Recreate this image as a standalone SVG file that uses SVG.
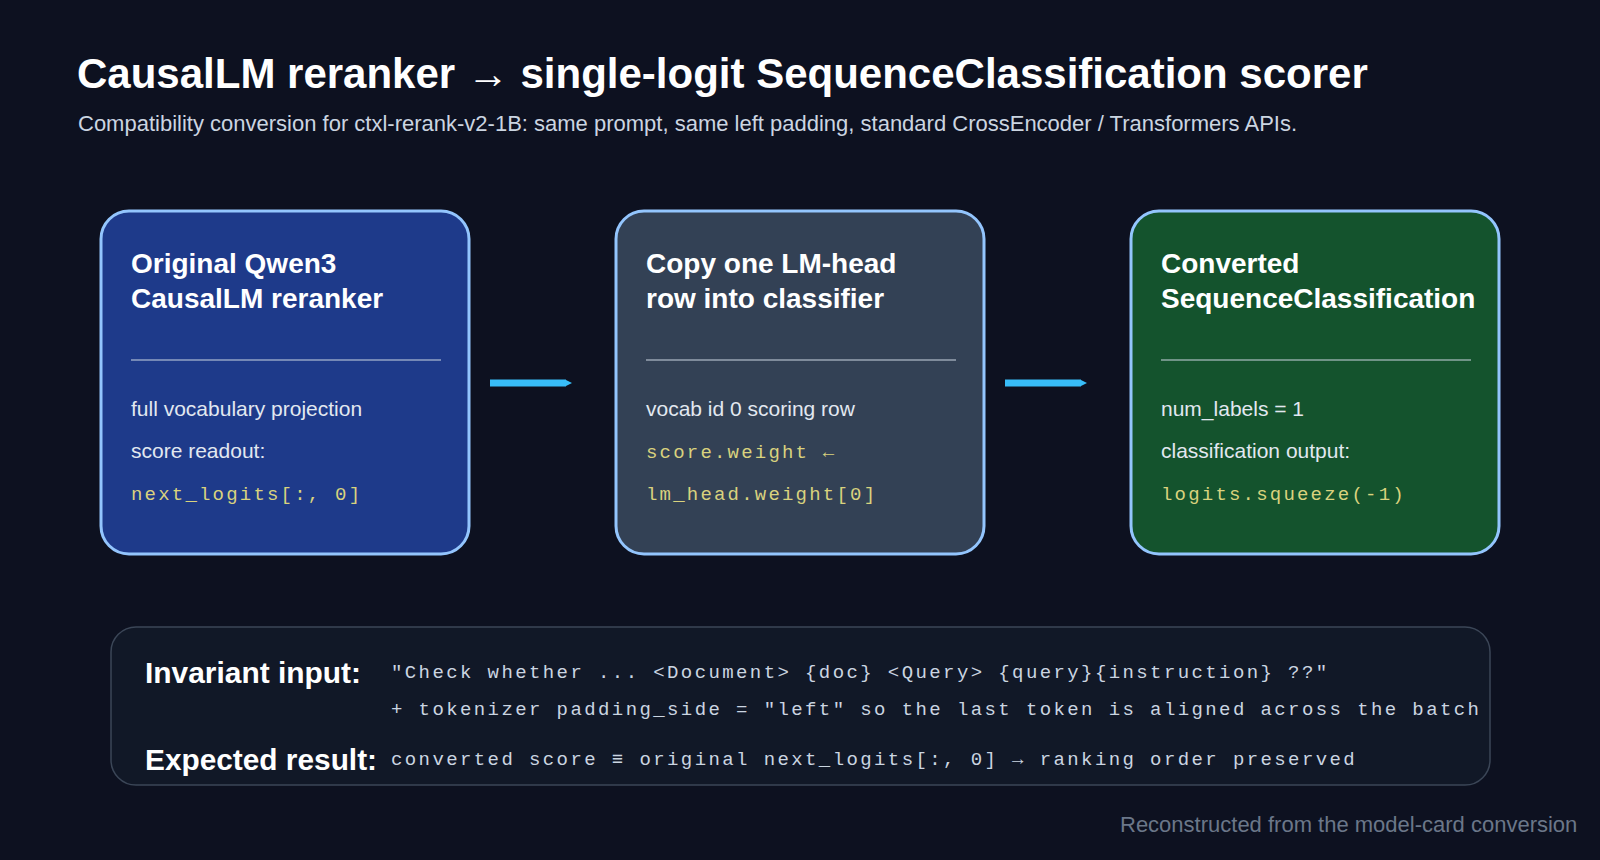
<svg xmlns="http://www.w3.org/2000/svg" width="1600" height="860" viewBox="0 0 1600 860">
<style>
.ttl{font-family:"Liberation Sans",Arial,sans-serif;font-weight:bold;fill:#fff}
.sub{font-family:"Liberation Sans",Arial,sans-serif;font-size:22px;fill:#cbd5e1}
.box{stroke:#93c5fd;stroke-width:3}
.nt{font-family:"Liberation Sans",Arial,sans-serif;font-weight:bold;font-size:28px;fill:#fff}
.bd{font-family:"Liberation Sans",Arial,sans-serif;font-size:21px;fill:#e2e8f0}
.mn{font-family:"Liberation Mono","Courier New",monospace;font-size:19px;letter-spacing:2.2px;fill:#d9d27e}
.mg{font-family:"Liberation Mono","Courier New",monospace;font-size:19px;letter-spacing:2.4px;fill:#cbd5e1}
.lb{font-family:"Liberation Sans Narrow","Liberation Sans",Arial,sans-serif;font-weight:bold;font-size:29px;fill:#fff}
.dv{stroke:#cbd5e1;stroke-width:1.2}
</style>
<defs>
<marker id="ah" markerWidth="6" markerHeight="6" refX="0" refY="3" orient="auto" markerUnits="userSpaceOnUse" viewBox="0 0 6 6"><path d="M0,0L6,3L0,6z" fill="#38bdf8"/></marker>
</defs>
<rect width="1600" height="860" fill="#0d1120"/>
<text class="ttl" x="77" y="88" font-size="42">CausalLM reranker → single-logit SequenceClassification scorer</text>
<text class="sub" x="78" y="131">Compatibility conversion for ctxl-rerank-v2-1B: same prompt, same left padding, standard CrossEncoder / Transformers APIs.</text>
<g id="node1">
<rect class="box" x="101" y="211" width="368" height="343" rx="28" fill="#1e3a8a"/>
<text class="nt" x="131" y="273">Original Qwen3</text>
<text class="nt" x="131" y="308">CausalLM reranker</text>
<line class="dv" x1="131" y1="360" x2="441" y2="360"/>
<text class="bd" x="131" y="416">full vocabulary projection</text>
<text class="bd" x="131" y="458">score readout:</text>
<text class="mn" x="131" y="500">next_logits[:, 0]</text>
</g>
<g id="node2">
<rect class="box" x="616" y="211" width="368" height="343" rx="28" fill="#334155"/>
<text class="nt" x="646" y="273">Copy one LM-head</text>
<text class="nt" x="646" y="308">row into classifier</text>
<line class="dv" x1="646" y1="360" x2="956" y2="360"/>
<text class="bd" x="646" y="416">vocab id 0 scoring row</text>
<text class="mn" x="646" y="458">score.weight ←</text>
<text class="mn" x="646" y="500">lm_head.weight[0]</text>
</g>
<g id="node3">
<rect class="box" x="1131" y="211" width="368" height="343" rx="28" fill="#14532d"/>
<text class="nt" x="1161" y="273">Converted</text>
<text class="nt" x="1161" y="308">SequenceClassification</text>
<line class="dv" x1="1161" y1="360" x2="1471" y2="360"/>
<text class="bd" x="1161" y="416">num_labels = 1</text>
<text class="bd" x="1161" y="458">classification output:</text>
<text class="mn" x="1161" y="500">logits.squeeze(-1)</text>
</g>
<g id="connectors">
<path d="M490,383H566" stroke="#38bdf8" stroke-width="7" marker-end="url(#ah)" fill="none"/>
<path d="M1005,383H1081" stroke="#38bdf8" stroke-width="7" marker-end="url(#ah)" fill="none"/>
</g>
<g id="invariant">
<rect x="111" y="627" width="1379" height="158" rx="25" fill="#111827" stroke="#3b4657" stroke-width="1.5"/>
<text class="lb" x="145" y="683" textLength="216" lengthAdjust="spacingAndGlyphs">Invariant input:</text>
<text class="lb" x="145" y="770" textLength="232" lengthAdjust="spacingAndGlyphs">Expected result:</text>
<text class="mg" x="391" y="678">"Check whether ... &lt;Document&gt; {doc} &lt;Query&gt; {query}{instruction} ??"</text>
<text class="mg" x="391" y="715">+ tokenizer padding_side = "left" so the last token is aligned across the batch</text>
<text class="mg" x="391" y="765">converted score ≡ original next_logits[:, 0]  → ranking order preserved</text>
</g>
<text class="sub" x="1120" y="832" fill="#6b7789" style="fill:#6b7789">Reconstructed from the model-card conversion</text>
</svg>
